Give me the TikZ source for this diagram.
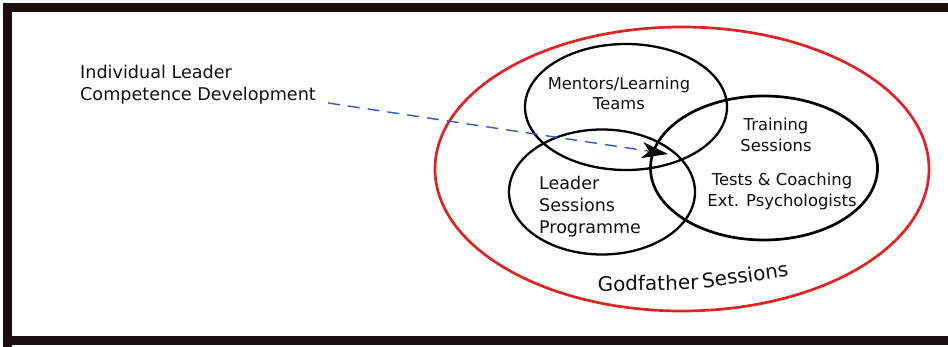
\documentclass[tikz,border=0pt]{standalone}
\usepackage{fontspec}
\setmainfont{DejaVu Sans}
\usetikzlibrary{arrows.meta,shapes.geometric}
\definecolor{framec}{HTML}{1A0E0E}
\definecolor{redc}{HTML}{E02424}
\definecolor{bluec}{HTML}{2E5BC8}
\definecolor{txt}{HTML}{111111}
\tikzset{
  venn/.style={draw=black, line width=2.3pt, ellipse, inner sep=0pt},
  lbl/.style={text=txt, inner sep=0pt, align=center},
}
\begin{document}
\begin{tikzpicture}[x=1pt,y=-1pt]
\useasboundingbox (0,0) rectangle (948,347);
\fill[white] (0,0) rectangle (948,347);
% frame
\fill[framec] (3,3) rectangle (948,12);
\fill[framec] (3,3) rectangle (12,347);
\fill[framec] (3,336) rectangle (948,345);
% ellipses
\node[venn, draw=redc, line width=2.7pt, minimum width=494pt, minimum height=284pt] (god) at (682,169) {};
\node[venn, minimum width=202pt, minimum height=126pt] (ment) at (626,107) {};
\node[venn, minimum width=186pt, minimum height=125pt] (lead) at (602,192) {};
\node[venn, line width=2.7pt, minimum width=227pt, minimum height=144pt] (train) at (764,168) {};
% texts
\node[lbl, align=left, anchor=west, font=\fontsize{17.6}{22}\selectfont] (ind) at (80,85) {Individual Leader\\Competence Development};
\node[lbl, font=\fontsize{16.3}{20}\selectfont] (mt) at (619,93) {Mentors/Learning\\Teams};
\node[lbl, font=\fontsize{16.4}{21}\selectfont] (tr) at (776,135) {Training\\Sessions};
\node[lbl, font=\fontsize{16.4}{21}\selectfont] (tc) at (782,191) {Tests \& Coaching\\Ext. Psychologists};
\node[lbl, align=left, anchor=west, font=\fontsize{17.5}{22}\selectfont] (lp) at (539,207) {Leader\\Sessions\\Programme};
\node[lbl, font=\fontsize{20}{22}\selectfont, rotate=1] (gf) at (648,283) {Godfather};
\node[lbl, font=\fontsize{20}{22}\selectfont, rotate=8] (gs) at (745,275) {Sessions};
% arrow
\coordinate (tip) at (668,154);
\coordinate (start) at (328,103);
\draw[bluec, line width=1.4pt, dash pattern=on 12pt off 8pt, -{Stealth[black, length=26pt, width=16pt, inset=7pt]}] (start) -- (tip);
\end{tikzpicture}
\end{document}
